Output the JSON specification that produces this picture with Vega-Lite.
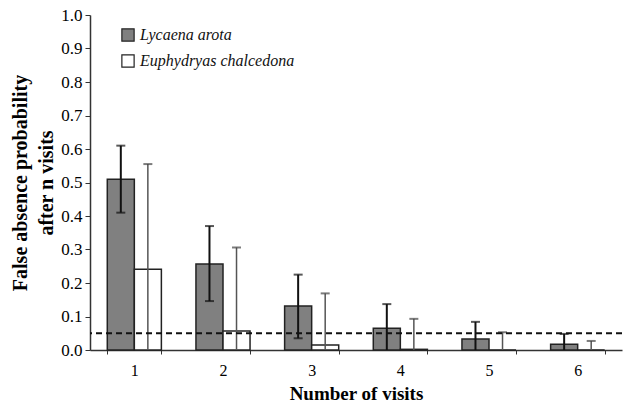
{
  "$schema": "https://vega.github.io/schema/vega-lite/v6.json",
  "width": 532,
  "height": 335,
  "autosize": "none",
  "padding": {"left": 90, "top": 15, "right": 8, "bottom": 56},
  "background": "white",
  "config": {"view": {"stroke": null}},
  "resolve": {"axis": {"x": "independent", "y": "independent"}},
  "data": {"values": [
    {"visit": 1, "species": "Lycaena arota", "value": 0.51, "lower": 0.41, "upper": 0.61},
    {"visit": 2, "species": "Lycaena arota", "value": 0.257, "lower": 0.146, "upper": 0.37},
    {"visit": 3, "species": "Lycaena arota", "value": 0.131, "lower": 0.035, "upper": 0.225},
    {"visit": 4, "species": "Lycaena arota", "value": 0.065, "lower": 0, "upper": 0.137},
    {"visit": 5, "species": "Lycaena arota", "value": 0.033, "lower": 0, "upper": 0.084},
    {"visit": 6, "species": "Lycaena arota", "value": 0.017, "lower": 0, "upper": 0.048},
    {"visit": 1, "species": "Euphydryas chalcedona", "value": 0.241, "lower": 0, "upper": 0.555},
    {"visit": 2, "species": "Euphydryas chalcedona", "value": 0.057, "lower": 0, "upper": 0.306},
    {"visit": 3, "species": "Euphydryas chalcedona", "value": 0.015, "lower": 0, "upper": 0.169},
    {"visit": 4, "species": "Euphydryas chalcedona", "value": 0.002, "lower": 0, "upper": 0.093},
    {"visit": 5, "species": "Euphydryas chalcedona", "value": 0, "lower": 0, "upper": 0.053},
    {"visit": 6, "species": "Euphydryas chalcedona", "value": 0, "lower": 0, "upper": 0.027}
  ]},
  "layer": [
    {
      "mark": {"type": "bar", "stroke": "#222", "strokeWidth": 1.5},
      "encoding": {
        "x": {"field": "visit", "type": "ordinal",
          "scale": {"paddingInner": 0.39, "paddingOuter": 0.195},
          "axis": {"title": "Number of visits", "titleFont": "Liberation Serif", "titleFontSize": 19, "titleFontWeight": "bold", "titleColor": "black", "titlePadding": 6,
            "labelAngle": 0, "labelFont": "Liberation Serif", "labelFontSize": 16, "labelColor": "black", "labelPadding": 8,
            "tickBand": "extent", "tickSize": 4, "tickColor": "#333", "domainColor": "#333", "domainWidth": 1.5, "grid": false}},
        "xOffset": {"field": "species", "type": "nominal", "sort": ["Lycaena arota", "Euphydryas chalcedona"]},
        "y": {"field": "value", "type": "quantitative",
          "scale": {"domain": [0, 1]},
          "axis": {"title": ["False absence probability", "after n visits"], "titleFont": "Liberation Serif", "titleFontSize": 20, "titleFontWeight": "bold", "titleColor": "black", "titleLineHeight": 26, "titlePadding": 4,
            "values": [0, 0.1, 0.2, 0.3, 0.4, 0.5, 0.6, 0.7, 0.8, 0.9, 1.0], "format": ".1f", "labelOverlap": false,
            "labelFont": "Liberation Serif", "labelFontSize": 17, "labelColor": "black", "labelPadding": 3, "tickSize": 5, "tickColor": "#333", "domainColor": "#333", "domainWidth": 1.5, "grid": false}},
        "fill": {"field": "species", "type": "nominal", "sort": ["Lycaena arota", "Euphydryas chalcedona"],
          "scale": {"domain": ["Lycaena arota", "Euphydryas chalcedona"], "range": ["#808080", "#ffffff"]},
          "legend": {"title": null, "orient": "none", "legendX": 30, "legendY": 12, "symbolType": "square", "symbolSize": 150,
            "symbolStrokeColor": "#222", "symbolStrokeWidth": 1.2, "labelFont": "Liberation Serif", "labelFontSize": 16, "labelFontStyle": "italic", "labelColor": "#111", "rowPadding": 8, "labelOffset": 4}}
      }
    },
    {
      "mark": {"type": "rule"},
      "encoding": {
        "x": {"field": "visit", "type": "ordinal", "axis": {"labels": false, "ticks": false, "domain": false, "title": null, "grid": false}},
        "xOffset": {"field": "species", "type": "nominal", "sort": ["Lycaena arota", "Euphydryas chalcedona"]},
        "y": {"field": "lower", "type": "quantitative", "axis": {"labels": false, "ticks": false, "domain": false, "title": null, "grid": false}},
        "y2": {"field": "upper"},
        "color": {"condition": {"test": "datum.species === 'Lycaena arota'", "value": "#111"}, "value": "#555"},
        "strokeWidth": {"condition": {"test": "datum.species === 'Lycaena arota'", "value": 2}, "value": 1.5}
      }
    },
    {
      "mark": {"type": "tick", "size": 9, "thickness": 2},
      "encoding": {
        "x": {"field": "visit", "type": "ordinal", "axis": {"labels": false, "ticks": false, "domain": false, "title": null, "grid": false}},
        "xOffset": {"field": "species", "type": "nominal", "sort": ["Lycaena arota", "Euphydryas chalcedona"]},
        "y": {"field": "upper", "type": "quantitative", "axis": {"labels": false, "ticks": false, "domain": false, "title": null, "grid": false}},
        "color": {"condition": {"test": "datum.species === 'Lycaena arota'", "value": "#111"}, "value": "#444"}
      }
    },
    {
      "transform": [{"filter": "datum.species === 'Lycaena arota' && datum.lower > 0"}],
      "mark": {"type": "tick", "size": 9, "thickness": 2, "color": "#111"},
      "encoding": {
        "x": {"field": "visit", "type": "ordinal", "axis": {"labels": false, "ticks": false, "domain": false, "title": null, "grid": false}},
        "xOffset": {"field": "species", "type": "nominal", "sort": ["Lycaena arota", "Euphydryas chalcedona"]},
        "y": {"field": "lower", "type": "quantitative", "axis": {"labels": false, "ticks": false, "domain": false, "title": null, "grid": false}}
      }
    },
    {
      "data": {"values": [{"threshold": 0.05}]},
      "mark": {"type": "rule", "color": "#111", "strokeWidth": 2, "strokeDash": [6, 4]},
      "encoding": {"y": {"field": "threshold", "type": "quantitative", "axis": {"labels": false, "ticks": false, "domain": false, "title": null, "grid": false}}}
    }
  ]
}
